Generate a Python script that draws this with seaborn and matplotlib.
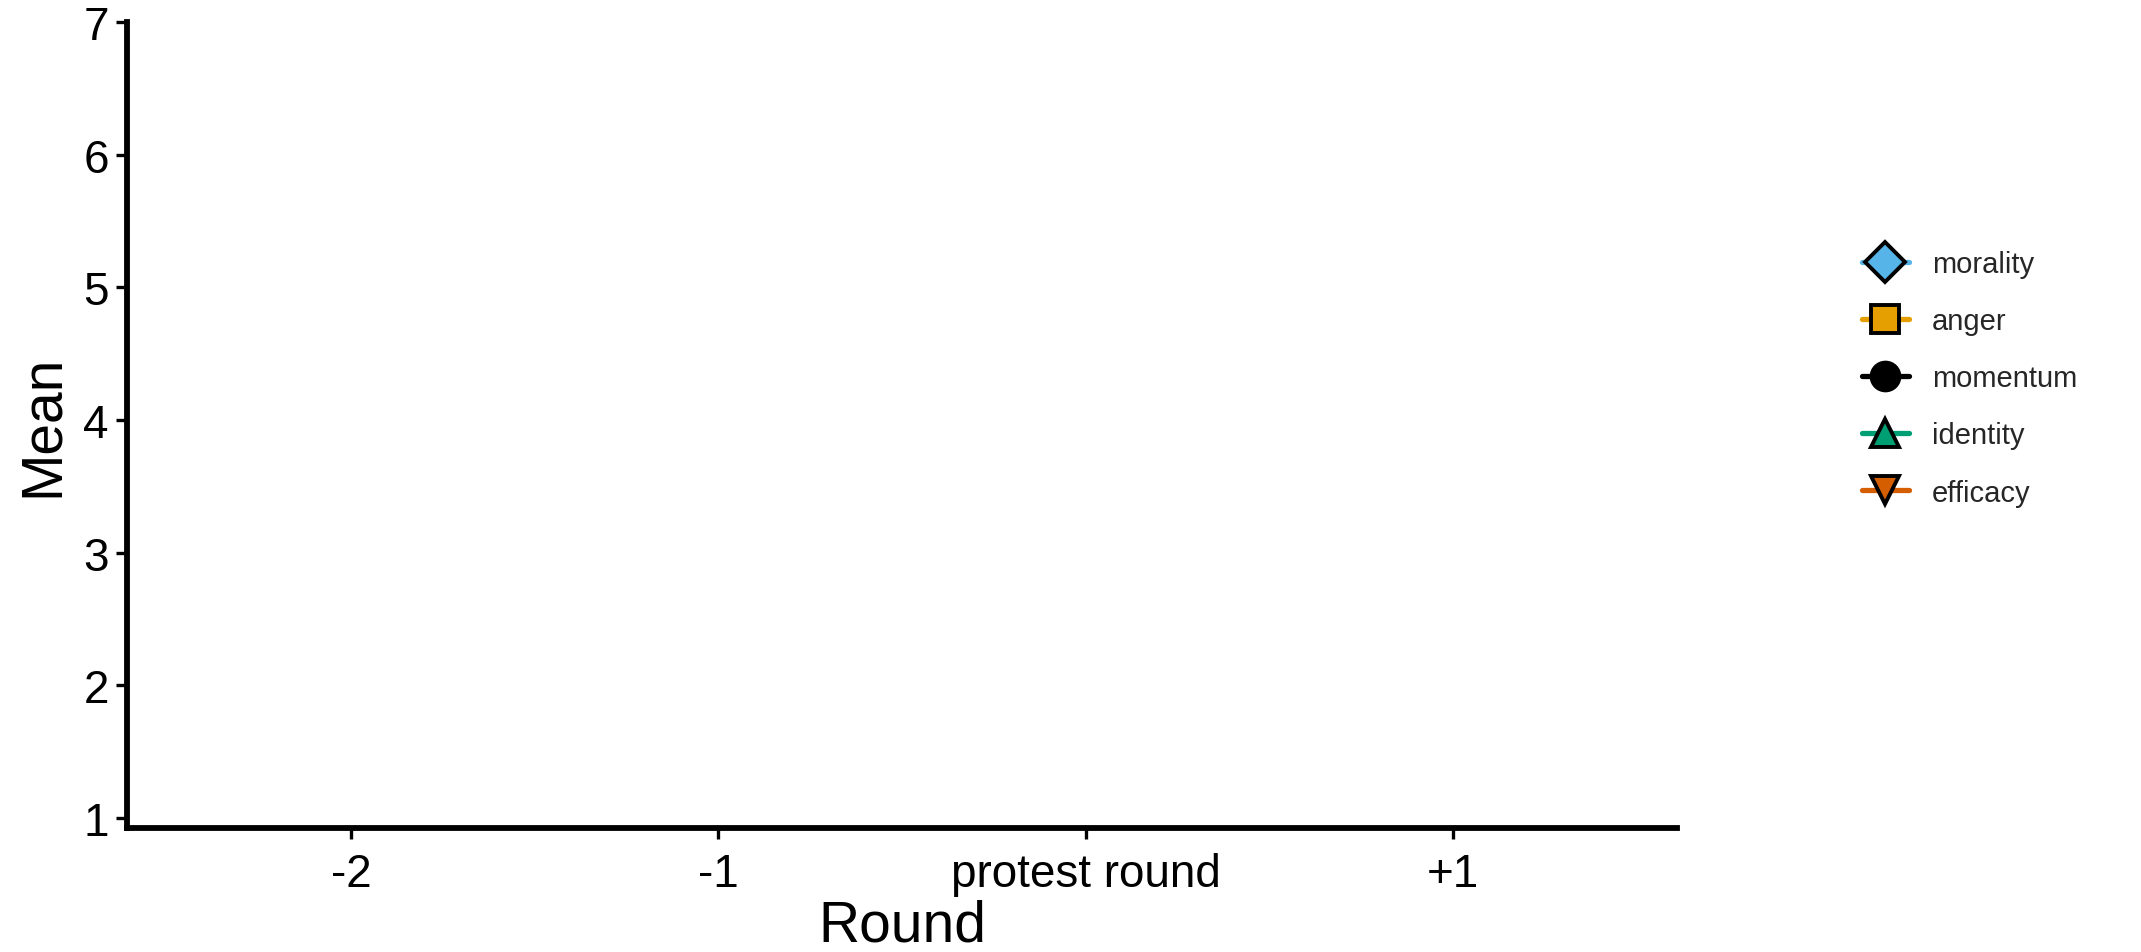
import matplotlib
matplotlib.use("Agg")
import matplotlib.pyplot as plt
from matplotlib.lines import Line2D
import seaborn as sns
import pandas as pd
import numpy as np

# Data: the reference shows no plotted values, only axes and legend
rounds = ["-2", "-1", "protest round", "+1"]
measures = ["morality", "anger", "momentum", "identity", "efficacy"]
colors = ["#56B4E9", "#E69F00", "#000000", "#009E73", "#D55E00"]
markers = ["D", "s", "o", "^", "v"]
y_ticks = [1, 2, 3, 4, 5, 6, 7]

sns.set_theme(style="ticks")
plt.rcParams["font.family"] = ["Liberation Sans", "DejaVu Sans"]

fig = plt.figure(figsize=(21.41, 9.53), dpi=100)
ax = fig.add_axes([0.0593, 0.1301, 0.7240, 0.8458])

# empty data frame (no visible observations in reference)
df = pd.DataFrame({"Round": pd.Categorical([], categories=rounds),
                   "Mean": pd.Series([], dtype=float),
                   "measure": pd.Series([], dtype=str)})
sns.lineplot(data=df, x="Round", y="Mean", hue="measure", ax=ax, legend=False)

ax.set_xticks(range(len(rounds)))
ax.set_xticklabels(rounds)
ax.set_xlim(-0.61, len(rounds) - 1 + 0.61)
ax.set_yticks(y_ticks)
ax.set_ylim(0.925, 7.0)
sns.despine(ax=ax)
for s in ["left", "bottom"]:
    ax.spines[s].set_linewidth(4.2)
    ax.spines[s].set_color("black")
ax.tick_params(axis="both", length=8, width=2.4, color="black",
               labelsize=33, labelcolor="black")
ax.tick_params(axis="x", pad=9)
ax.tick_params(axis="y", pad=5)
ax.set_xlabel("Round", fontsize=41, color="black", labelpad=2)
ax.set_ylabel("Mean", fontsize=41, color="black", labelpad=10)

handles = [Line2D([0], [0], color=c, lw=3.8, marker=m, markersize=20,
                  markerfacecolor=c, markeredgecolor="black", markeredgewidth=2.8)
           for c, m in zip(colors, markers)]
fig.legend(handles, measures, loc="center left", bbox_to_anchor=(0.8575, 0.602),
           frameon=False, fontsize=21, handlelength=1.6, handletextpad=0.8,
           labelspacing=1.0)

fig.savefig("out.png", dpi=100)
